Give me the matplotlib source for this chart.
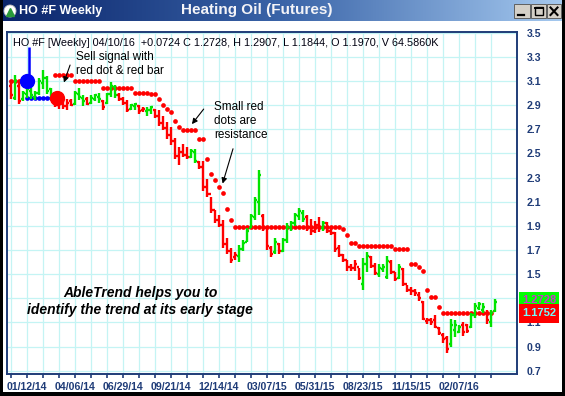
import numpy as np
import matplotlib.pyplot as plt
import matplotlib.transforms as mtransforms
from matplotlib.patches import Rectangle, Ellipse
from matplotlib.lines import Line2D
from matplotlib.colors import LinearSegmentedColormap

plt.rcParams['font.family'] = ['Liberation Sans', 'DejaVu Sans']

W, H = 565, 396

# weekly bars, first bar = week of 12/15/13, last = 04/10/16
opens = [3.06, 2.96, 3.06, 2.95, 2.99, 3.02, 2.97, 3.00, 3.08, 3.12, 3.03, 2.97, 2.90, 2.93, 2.89, 2.93,
         2.91, 2.99, 2.96, 2.95, 2.92, 2.95, 2.97, 2.93, 2.92, 2.99, 3.05, 2.98, 2.95, 2.92, 2.87, 2.89,
         2.89, 2.86, 2.85, 2.86, 2.86, 2.81, 2.75, 2.71, 2.65, 2.60, 2.48, 2.51, 2.49, 2.47, 2.51, 2.43,
         2.39, 2.22, 2.16, 2.03, 1.95, 1.91, 1.75, 1.69, 1.64, 1.65, 1.71, 1.77, 1.88, 1.97, 2.10, 1.98,
         1.88, 1.72, 1.68, 1.75, 1.69, 1.78, 1.88, 1.92, 1.98, 2.01, 1.97, 1.89, 1.86, 1.91, 1.88, 1.92,
         1.86, 1.84, 1.72, 1.66, 1.62, 1.56, 1.55, 1.56, 1.42, 1.58, 1.64, 1.57, 1.50, 1.54, 1.48, 1.60,
         1.52, 1.47, 1.54, 1.42, 1.37, 1.36, 1.33, 1.27, 1.11, 1.12, 1.12, 1.05, 1.00, 0.97, 0.92, 1.04,
         1.02, 1.08, 1.08, 1.06, 1.16, 1.22, 1.20, 1.18, 1.10, 1.197]
highs = [3.11, 3.15, 3.08, 3.02, 3.06, 3.04, 3.02, 3.12, 3.19, 3.14, 3.04, 2.98, 2.95, 2.96, 2.95, 2.95,
         3.02, 3.04, 2.98, 2.97, 2.98, 2.99, 3.00, 2.94, 3.00, 3.09, 3.07, 3.00, 2.97, 2.94, 2.91, 2.92,
         2.90, 2.88, 2.88, 2.89, 2.87, 2.86, 2.81, 2.76, 2.72, 2.63, 2.55, 2.58, 2.55, 2.54, 2.54, 2.44,
         2.44, 2.29, 2.14, 2.03, 1.99, 1.95, 1.80, 1.72, 1.68, 1.74, 1.78, 1.88, 2.00, 2.14, 2.36, 2.00,
         1.89, 1.73, 1.80, 1.76, 1.80, 1.92, 1.94, 2.01, 2.05, 2.03, 1.99, 1.96, 1.94, 1.97, 1.94, 1.93,
         1.89, 1.85, 1.74, 1.67, 1.62, 1.58, 1.62, 1.55, 1.63, 1.68, 1.65, 1.59, 1.58, 1.58, 1.65, 1.62,
         1.52, 1.58, 1.55, 1.41, 1.39, 1.38, 1.35, 1.28, 1.14, 1.14, 1.16, 1.06, 1.01, 0.99, 1.13, 1.12,
         1.08, 1.10, 1.09, 1.18, 1.26, 1.27, 1.26, 1.20, 1.20, 1.2907]
lows = [2.95, 2.94, 2.91, 2.93, 2.96, 2.95, 2.94, 2.98, 3.03, 2.99, 2.95, 2.88, 2.87, 2.87, 2.86, 2.89,
        2.90, 2.94, 2.89, 2.90, 2.91, 2.93, 2.92, 2.86, 2.91, 2.97, 2.96, 2.93, 2.90, 2.84, 2.86, 2.86,
        2.83, 2.84, 2.81, 2.83, 2.79, 2.73, 2.69, 2.62, 2.57, 2.45, 2.40, 2.47, 2.45, 2.46, 2.42, 2.37,
        2.19, 2.14, 2.01, 1.92, 1.89, 1.72, 1.67, 1.59, 1.62, 1.60, 1.69, 1.77, 1.88, 1.95, 1.99, 1.86,
        1.70, 1.64, 1.67, 1.67, 1.68, 1.76, 1.86, 1.90, 1.95, 1.93, 1.86, 1.82, 1.84, 1.85, 1.86, 1.84,
        1.82, 1.68, 1.64, 1.60, 1.53, 1.53, 1.53, 1.45, 1.37, 1.52, 1.55, 1.49, 1.48, 1.52, 1.46, 1.50,
        1.44, 1.46, 1.40, 1.35, 1.33, 1.32, 1.28, 1.12, 1.09, 1.08, 1.05, 1.00, 0.93, 0.85, 0.90, 0.98,
        1.01, 0.99, 1.01, 1.05, 1.14, 1.20, 1.18, 1.09, 1.06, 1.1844]
closes = [2.98, 3.10, 2.93, 3.00, 3.03, 2.98, 3.00, 3.10, 3.12, 3.02, 2.97, 2.90, 2.92, 2.89, 2.92, 2.90,
          3.00, 2.97, 2.93, 2.91, 2.96, 2.98, 2.95, 2.88, 2.99, 3.06, 2.98, 2.95, 2.92, 2.86, 2.90, 2.91,
          2.85, 2.87, 2.86, 2.88, 2.81, 2.75, 2.71, 2.65, 2.60, 2.48, 2.51, 2.49, 2.47, 2.52, 2.44, 2.39,
          2.22, 2.16, 2.03, 1.95, 1.91, 1.75, 1.69, 1.62, 1.66, 1.71, 1.76, 1.86, 1.98, 2.11, 2.32, 1.88,
          1.73, 1.67, 1.77, 1.69, 1.78, 1.89, 1.92, 1.99, 2.02, 1.96, 1.89, 1.86, 1.91, 1.88, 1.92, 1.86,
          1.84, 1.71, 1.66, 1.62, 1.56, 1.55, 1.58, 1.47, 1.58, 1.65, 1.57, 1.51, 1.55, 1.56, 1.61, 1.52,
          1.46, 1.56, 1.42, 1.37, 1.36, 1.34, 1.30, 1.13, 1.12, 1.10, 1.06, 1.01, 0.96, 0.88, 1.08, 1.08,
          1.06, 1.02, 1.03, 1.16, 1.24, 1.25, 1.23, 1.12, 1.18, 1.2728]
# trend colour of each bar: g = up, r = down
bar_trend = "".join(["r", "g", "r", "gggggggg", "rrrrr", "ggg", "r", "ggg", "r", "ggg", "rrr", "gg", "rr",
                     "gg", "rrrrrrrrr", "gg", "rrrrrrrrrr", "gggggg", "rrr", "g", "r", "gggggg", "rrrr",
                     "g", "rrrrrrrrr", "gg", "rr", "ggg", "rr", "g", "rrrrrrrrrrrr", "ggg", "rr", "gggg",
                     "r", "gg"])
nan = np.nan
red_dots = [3.10, 3.10, 3.10, 3.10, nan, nan, nan, nan, nan, nan, nan, 3.15, 3.15, 3.15, 3.15, 3.15,
            3.10, 3.10, 3.10, 3.10, 3.10, 3.10, 3.10, 3.04, 3.04, 3.04, 3.04, 3.04, 3.04, 3.04, 3.04,
            3.00, 3.00, 3.00, 3.00, 2.99, 2.99, 2.95, 2.90, 2.87, 2.84, 2.77, 2.72, 2.69, 2.69, 2.69,
            2.69, 2.62, 2.62, 2.45, 2.33, 2.28, 2.22, 2.17, 2.04, 1.95, 1.89, 1.89, 1.89, 1.89, 1.89,
            1.89, 1.89, 1.89, 1.89, 1.89, 1.89, 1.89, 1.89, 1.89, 1.89, 1.89, 1.89, 1.89, 1.89, 1.89,
            1.89, 1.89, 1.89, 1.89, 1.89, 1.89, 1.89, 1.87, 1.82, 1.76, 1.76, 1.73, 1.73, 1.73, 1.73,
            1.73, 1.73, 1.73, 1.73, 1.73, 1.71, 1.71, 1.71, 1.71, 1.58, 1.58, 1.56, 1.53, 1.37, 1.31,
            1.31, 1.23, 1.18, 1.18, 1.18, 1.18, 1.18, 1.18, 1.18, 1.18, 1.18, 1.18, 1.18, 1.18, 1.18, nan]
blue_weeks = [4, 5, 6, 7, 8, 9, 10]
blue_dots = [2.96, 2.96, 2.96, 2.96, 2.96, 2.96, 2.96]
buy_week, buy_price, buy_top = 4, 3.10, 3.38
sell_week, sell_price = 11, 2.96
last_close, last_stop = 1.2728, 1.1752

date_labels = ["01/12/14", "04/06/14", "06/29/14", "09/21/14", "12/14/14",
               "03/07/15", "05/31/15", "08/23/15", "11/15/15", "02/07/16"]
label_weeks = [4, 16, 28, 40, 52, 64, 76, 88, 100, 112]
price_ticks = [0.7, 0.9, 1.1, 1.3, 1.5, 1.7, 1.9, 2.1, 2.3, 2.5, 2.7, 2.9, 3.1, 3.3, 3.5]
hidden_tick = 1.3  # sits under the last-price tag

NAVY = '#1f3c78'
GREEN = '#00e400'
RED = '#ff0000'

fig = plt.figure(figsize=(W / 100, H / 100), dpi=100)
fig.patch.set_facecolor('white')


def frect(x0, y0, x1, y1, **kw):
    return Rectangle((x0 / W, 1 - y1 / H), (x1 - x0) / W, (y1 - y0) / H,
                     transform=fig.transFigure, **kw)


# ---- main price panel
ax = fig.add_axes([7 / W, 1 - 374 / H, 510 / W, 342 / H])
x = np.arange(len(closes))
cols = [GREEN if c == 'g' else RED for c in bar_trend]

ax.plot(x, red_dots, 'o', color=RED, ms=3.4, mew=0, zorder=3)
ax.plot(blue_weeks, blue_dots, '-o', color='#0000ff', ms=3.4, mew=0, lw=1.2, zorder=3)

ax.vlines(x, lows, highs, colors=cols, lw=1.7, zorder=4)
ax.hlines(opens, x - 0.6, x, colors=cols, lw=1.7, zorder=4)
ax.hlines(closes, x, x + 0.6, colors=cols, lw=1.7, zorder=4)

ax.vlines(buy_week + 0.6, buy_price, buy_top, colors='#0000ff', lw=1.8, zorder=5)
ax.plot(buy_week, buy_price, 'o', color='#0000ff', ms=10, zorder=6)
ax.plot(sell_week + 0.4, sell_price, 'o', color=RED, ms=10, zorder=6)

ax.set_xlim(-1, 126.5)
ax.set_ylim(0.673, 3.505)

tick_weeks = list(range(0, 121, 4))
ax.set_xticks(tick_weeks)
ax.set_xticklabels([date_labels[label_weeks.index(k)] if k in label_weeks else '' for k in tick_weeks],
                   fontsize=7.6, fontweight='bold', color=NAVY)
ax.set_yticks(price_ticks)
ax.set_yticklabels(['' if abs(p - hidden_tick) < 1e-9 else '%.1f' % p for p in price_ticks],
                   fontsize=7.6, fontweight='bold', color=NAVY)
ax.yaxis.tick_right()
ax.tick_params(axis='y', length=0, pad=7)
ax.tick_params(axis='x', length=3, width=1.2, color=NAVY, pad=3)
ax.grid(True, color='#c4f4f4', lw=0.9)
ax.set_axisbelow(True)
for s in ax.spines.values():
    s.set_color(NAVY)
    s.set_linewidth(1.4)

ax.text(6 / 510, 1 - 11.5 / 342,
        "HO #F [Weekly] 04/10/16  +0.0724 C 1.2728, H 1.2907, L 1.1844, O 1.1970, V 64.5860K",
        transform=ax.transAxes, fontsize=7.8, va='center', ha='left', color='#000010')

# annotations
ax.text(16.2, 3.298, "Sell signal with", fontsize=8.5, va='center', ha='left')
ax.text(16.2, 3.183, "red dot & red bar", fontsize=8.5, va='center', ha='left')
ax.annotate('', xy=(13.0, 3.065), xytext=(15.0, 3.253),
            arrowprops=dict(arrowstyle='-|>', color='black', lw=0.8, mutation_scale=8))
ax.text(50.8, 2.881, "Small red", fontsize=8.5, va='center', ha='left')
ax.text(50.8, 2.766, "dots are", fontsize=8.5, va='center', ha='left')
ax.text(50.8, 2.648, "resistance", fontsize=8.5, va='center', ha='left')
ax.annotate('', xy=(44.8, 2.724), xytext=(48.6, 2.885),
            arrowprops=dict(arrowstyle='-|>', color='black', lw=0.8, mutation_scale=8))
ax.annotate('', xy=(52.7, 2.228), xytext=(55.7, 2.56),
            arrowprops=dict(arrowstyle='-|>', color='black', lw=0.8, mutation_scale=8))
ax.text(32.3, 1.343, "AbleTrend helps you to", fontsize=10, fontweight='bold', fontstyle='italic',
        ha='center', va='center')
ax.text(32.3, 1.202, "identify the trend at its early stage", fontsize=10, fontweight='bold',
        fontstyle='italic', ha='center', va='center')

# last price / stop tags on the right scale
trans = mtransforms.blended_transform_factory(ax.transAxes, ax.transData)
bw = 40 / 510
bx = 512 / 510
hh = 0.076
ax.add_patch(Rectangle((bx, last_close - hh), bw, 2 * hh, transform=trans, clip_on=False,
                       facecolor='#00ff00', edgecolor='none', zorder=8))
ax.text(bx + bw / 2, last_close + 0.012, "%.4f" % last_close, transform=trans, ha='center', va='center',
        fontsize=8, fontweight='bold', color='#cc33cc', zorder=9, clip_on=False)
ax.add_patch(Rectangle((bx, last_stop - hh), bw, 2 * hh, transform=trans, clip_on=False,
                       facecolor='#ff0000', edgecolor='none', zorder=10))
ax.text(bx + bw / 2, last_stop, "%.4f" % last_stop, transform=trans, ha='center', va='center',
        fontsize=8, fontweight='bold', color='#70ffff', zorder=11, clip_on=False)

# ---- title bar
tax = fig.add_axes([0, 1 - 21 / H, 1, 21 / H])
cmap = LinearSegmentedColormap.from_list('tb', ['#0a246a', '#3a64a8', '#a6caf0'])
tax.imshow(np.linspace(0, 1, 256).reshape(1, -1), cmap=cmap, aspect='auto', extent=(0, 1, 0, 1))
tax.set_axis_off()

fig.add_artist(Ellipse((10 / W, 1 - 11 / H), 12 / W, 12 / H, transform=fig.transFigure,
                       facecolor='white', edgecolor='#c0c0c0', lw=0.6))
fig.add_artist(Line2D([10 / W], [1 - 11.5 / H], marker='^', ms=6, color='#2a9a3a',
                      transform=fig.transFigure))
fig.text(19 / W, 1 - 11 / H, "HO #F Weekly", color='white', fontsize=9, fontweight='bold',
         va='center', ha='left')
fig.text(257 / W, 1 - 10 / H, "Heating Oil (Futures)", color='#f4f4f8', fontsize=11,
         fontweight='bold', va='center', ha='center')

# window buttons
for x0, x1 in [(514, 530), (531, 546), (547, 561)]:
    fig.add_artist(frect(x0, 4, x1, 18, facecolor='#d4d0c8', edgecolor='#606060', lw=0.7))
fig.add_artist(Line2D([518 / W, 524 / W], [1 - 15 / H, 1 - 15 / H], color='black', lw=1.6,
                      transform=fig.transFigure))
fig.add_artist(frect(534.5, 7, 543, 15, facecolor='none', edgecolor='black', lw=1.0))
fig.add_artist(Line2D([534.5 / W, 543 / W], [1 - 7.5 / H, 1 - 7.5 / H], color='black', lw=1.4,
                      transform=fig.transFigure))
fig.add_artist(Line2D([550.5 / W, 557.5 / W], [1 - 7.5 / H, 1 - 15 / H], color='black', lw=1.5,
                      transform=fig.transFigure))
fig.add_artist(Line2D([550.5 / W, 557.5 / W], [1 - 15 / H, 1 - 7.5 / H], color='black', lw=1.5,
                      transform=fig.transFigure))

# black window border
fig.add_artist(frect(0, 0, 2.5, H, facecolor='black', edgecolor='none'))
fig.add_artist(frect(562, 0, W, H, facecolor='black', edgecolor='none'))
fig.add_artist(frect(0, 392, W, H, facecolor='black', edgecolor='none'))

fig.savefig('out.png', dpi=100)
